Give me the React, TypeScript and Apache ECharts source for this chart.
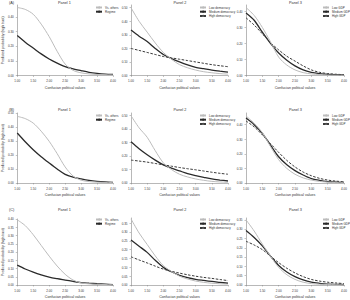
import React, { useEffect, useRef } from "react";
import * as echarts from "echarts";

const xValues = [1, 1.25, 1.5, 1.75, 2, 2.25, 2.5, 2.75, 3, 3.25, 3.5, 3.75, 4];

const NAMES_P1 = ["Vs. others", "Regime"];
const NAMES_P2 = ["Low democracy", "Medium democracy", "High democracy"];
const NAMES_P3 = ["Low GDP", "Medium GDP", "High GDP"];
const PANEL_TITLES = ["Panel 1", "Panel 2", "Panel 3"];
const ROW_LABELS = ["(A)", "(B)", "(C)"];
const X_NAME = "Confucian political values";
const Y_NAME = "Predicted probability (high trust)";

// Row A
const r1p1Light = [0.463, 0.45, 0.417, 0.35, 0.265, 0.165, 0.078, 0.035, 0.018, 0.011, 0.007, 0.005, 0.004];
const r1p1Dark = [0.272, 0.227, 0.187, 0.147, 0.112, 0.084, 0.06, 0.045, 0.033, 0.022, 0.015, 0.01, 0.007];
const r1p2Low = [0.5, 0.4, 0.32, 0.24, 0.17, 0.12, 0.08, 0.057, 0.04, 0.028, 0.02, 0.014, 0.01];
const r1p2Med = [0.335, 0.29, 0.25, 0.2, 0.155, 0.125, 0.1, 0.078, 0.06, 0.05, 0.04, 0.032, 0.025];
const r1p2High = [0.2, 0.185, 0.17, 0.155, 0.14, 0.13, 0.12, 0.11, 0.1, 0.09, 0.08, 0.072, 0.065];
const r1p3Low = [0.424, 0.375, 0.3, 0.21, 0.115, 0.065, 0.035, 0.018, 0.01, 0.006, 0.003, 0.002, 0.001];
const r1p3Med = [0.39, 0.345, 0.27, 0.2, 0.14, 0.095, 0.06, 0.035, 0.02, 0.012, 0.007, 0.005, 0.003];
const r1p3High = [0.36, 0.315, 0.26, 0.205, 0.16, 0.12, 0.09, 0.06, 0.035, 0.02, 0.012, 0.008, 0.005];
// Row B
const r2p1Light = [0.476, 0.46, 0.428, 0.37, 0.298, 0.21, 0.115, 0.05, 0.02, 0.01, 0.006, 0.004, 0.003];
const r2p1Dark = [0.357, 0.295, 0.238, 0.188, 0.143, 0.1, 0.062, 0.042, 0.029, 0.018, 0.011, 0.007, 0.005];
const r2p2Low = [0.5, 0.41, 0.34, 0.24, 0.15, 0.1, 0.065, 0.045, 0.03, 0.02, 0.012, 0.008, 0.005];
const r2p2Med = [0.306, 0.255, 0.21, 0.17, 0.135, 0.11, 0.09, 0.07, 0.055, 0.042, 0.03, 0.022, 0.015];
const r2p2High = [0.17, 0.163, 0.155, 0.145, 0.135, 0.125, 0.115, 0.106, 0.098, 0.089, 0.08, 0.072, 0.065];
const r2p3Low = [0.46, 0.41, 0.345, 0.25, 0.16, 0.1, 0.06, 0.035, 0.02, 0.011, 0.006, 0.003, 0.002];
const r2p3Med = [0.445, 0.4, 0.34, 0.26, 0.18, 0.125, 0.085, 0.055, 0.03, 0.018, 0.01, 0.006, 0.004];
const r2p3High = [0.425, 0.385, 0.33, 0.27, 0.21, 0.155, 0.11, 0.075, 0.05, 0.032, 0.02, 0.013, 0.008];
// Row C
const r3p1Light = [0.395, 0.36, 0.305, 0.24, 0.175, 0.115, 0.065, 0.03, 0.0125, 0.007, 0.004, 0.0025, 0.0015];
const r3p1Dark = [0.12, 0.097, 0.0775, 0.061, 0.0475, 0.038, 0.03, 0.022, 0.015, 0.011, 0.0075, 0.005, 0.0025];
const r3p2Low = [0.375, 0.295, 0.23, 0.165, 0.11, 0.077, 0.05, 0.034, 0.0225, 0.015, 0.01, 0.007, 0.005];
const r3p2Med = [0.255, 0.22, 0.185, 0.14, 0.1, 0.075, 0.055, 0.042, 0.0325, 0.026, 0.02, 0.015, 0.01];
const r3p2High = [0.16, 0.142, 0.125, 0.107, 0.09, 0.078, 0.0675, 0.058, 0.05, 0.043, 0.0375, 0.031, 0.025];
const r3p3Low = [0.35, 0.29, 0.22, 0.155, 0.095, 0.055, 0.03, 0.015, 0.0075, 0.004, 0.0025, 0.0015, 0.001];
const r3p3Med = [0.2925, 0.255, 0.21, 0.155, 0.105, 0.07, 0.045, 0.027, 0.015, 0.009, 0.005, 0.0035, 0.0025];
const r3p3High = [0.235, 0.215, 0.19, 0.155, 0.12, 0.09, 0.065, 0.045, 0.03, 0.021, 0.015, 0.011, 0.0075];

const STYLES: any = {
  light: { color: "#bcbcbc", width: 1, type: "solid" },
  dark: { color: "#2a2a2a", width: 1.3, type: "solid" },
  dashed: { color: "#3a3a3a", width: 1, type: [2.5, 1.5] },
};

const panels = [
  { row: 0, col: 0, yMax: 0.48, yInt: 0.1, showMax: false, lines: [[NAMES_P1[0], r1p1Light, "light"], [NAMES_P1[1], r1p1Dark, "dark"]] },
  { row: 0, col: 1, yMax: 0.52, yInt: 0.1, showMax: false, lines: [[NAMES_P2[0], r1p2Low, "light"], [NAMES_P2[1], r1p2Med, "dark"], [NAMES_P2[2], r1p2High, "dashed"]] },
  { row: 0, col: 2, yMax: 0.44, yInt: 0.1, showMax: false, lines: [[NAMES_P3[0], r1p3Low, "light"], [NAMES_P3[1], r1p3Med, "dark"], [NAMES_P3[2], r1p3High, "dashed"]] },
  { row: 1, col: 0, yMax: 0.5, yInt: 0.1, showMax: true, lines: [[NAMES_P1[0], r2p1Light, "light"], [NAMES_P1[1], r2p1Dark, "dark"]] },
  { row: 1, col: 1, yMax: 0.52, yInt: 0.1, showMax: false, lines: [[NAMES_P2[0], r2p2Low, "light"], [NAMES_P2[1], r2p2Med, "dark"], [NAMES_P2[2], r2p2High, "dashed"]] },
  { row: 1, col: 2, yMax: 0.48, yInt: 0.1, showMax: false, lines: [[NAMES_P3[0], r2p3Low, "light"], [NAMES_P3[1], r2p3Med, "dark"], [NAMES_P3[2], r2p3High, "dashed"]] },
  { row: 2, col: 0, yMax: 0.4, yInt: 0.05, showMax: true, lines: [[NAMES_P1[0], r3p1Light, "light"], [NAMES_P1[1], r3p1Dark, "dark"]] },
  { row: 2, col: 1, yMax: 0.38, yInt: 0.05, showMax: false, lines: [[NAMES_P2[0], r3p2Low, "light"], [NAMES_P2[1], r3p2Med, "dark"], [NAMES_P2[2], r3p2High, "dashed"]] },
  { row: 2, col: 2, yMax: 0.36, yInt: 0.05, showMax: false, lines: [[NAMES_P3[0], r3p3Low, "light"], [NAMES_P3[1], r3p3Med, "dark"], [NAMES_P3[2], r3p3High, "dashed"]] },
];

const COL_LEFT = [15, 131, 246];
const COL_WIDTH = [98, 97, 98];
const ROW_TOP = [[5, 5, 5], [113, 113, 113], [219, 218, 218]];
const ROW_BOTTOM = [75.5, 183, 286];
const TITLE_Y = [3, 110, 210];
const LEGEND_LEFT = [95, 199, 322];
const LEGEND_TOP = [6, 114, 218];

const FONT = "Liberation Sans, Arial, sans-serif";
const TXT = "#333";

export default function App() {
  const ref = useRef<HTMLDivElement>(null);
  useEffect(() => {
    if (!ref.current) return;
    const chart = echarts.init(ref.current, null, { renderer: "svg" });
    const grid: any[] = [];
    const xAxis: any[] = [];
    const yAxis: any[] = [];
    const series: any[] = [];
    const legend: any[] = [];
    const graphic: any[] = [];
    panels.forEach((p, i) => {
      const top = ROW_TOP[p.row][p.col];
      const bottom = ROW_BOTTOM[p.row];
      grid.push({ left: COL_LEFT[p.col], width: COL_WIDTH[p.col], top, height: bottom - top, containLabel: false });
      xAxis.push({
        type: "value", gridIndex: i, min: 1, max: 4, interval: 0.5,
        name: X_NAME, nameLocation: "middle", nameGap: 10,
        nameTextStyle: { fontSize: 3.6, color: TXT, fontFamily: FONT },
        axisLine: { lineStyle: { color: "#888", width: 0.6 } },
        axisTick: { length: 1.5, lineStyle: { color: "#888", width: 0.5 } },
        axisLabel: { fontSize: 3, color: TXT, fontFamily: FONT, margin: 4, formatter: (v: number) => v.toFixed(2) },
        splitLine: { show: false },
      });
      yAxis.push({
        type: "value", gridIndex: i, min: 0, max: p.yMax, interval: p.yInt,
        name: p.col === 0 ? Y_NAME : "", nameLocation: "middle", nameGap: 11, nameRotate: 90,
        nameTextStyle: { fontSize: 3.4, color: TXT, fontFamily: FONT },
        axisLine: { show: true, lineStyle: { color: "#888", width: 0.6 } },
        axisTick: { show: true, length: 1.5, lineStyle: { color: "#888", width: 0.5 } },
        axisLabel: { fontSize: 3, color: TXT, fontFamily: FONT, margin: 3.5, showMaxLabel: p.showMax, formatter: (v: number) => v.toFixed(2) },
        splitLine: { show: false },
      });
      const names: string[] = [];
      (p.lines as any[]).forEach(([name, vals, st]) => {
        names.push(name);
        series.push({
          type: "line", name, xAxisIndex: i, yAxisIndex: i,
          data: xValues.map((x, k) => [x, vals[k]]),
          smooth: 0.3, symbol: "none", showSymbol: false,
          lineStyle: STYLES[st], itemStyle: { color: STYLES[st].color },
          z: st === "light" ? 3 : 2,
        });
      });
      legend.push({
        data: names, orient: "vertical", left: LEGEND_LEFT[p.col], top: LEGEND_TOP[p.row],
        itemWidth: 6, itemHeight: 2.5, itemGap: 1.2, padding: 0, selectedMode: false,
        textStyle: { fontSize: 3, color: TXT, fontFamily: FONT, padding: [0, 0, 0, -2] },
      });
      graphic.push({
        type: "text", left: COL_LEFT[p.col] + COL_WIDTH[p.col] / 2 - 6, top: TITLE_Y[p.row] - 2,
        style: { text: PANEL_TITLES[p.col], fontSize: 3.8, fill: TXT, fontFamily: FONT },
      });
      if (p.col === 0) {
        graphic.push({
          type: "text", left: 9, top: TITLE_Y[p.row] - 2,
          style: { text: ROW_LABELS[p.row], fontSize: 3.8, fill: TXT, fontFamily: FONT },
        });
      }
    });
    chart.setOption({
      animation: false,
      backgroundColor: "#fff",
      grid, xAxis, yAxis, series, legend, graphic,
    });
    return () => chart.dispose();
  }, []);
  return <div ref={ref} style={{ position: "fixed", left: 0, top: 0, width: 350, height: 300 }} />;
}
